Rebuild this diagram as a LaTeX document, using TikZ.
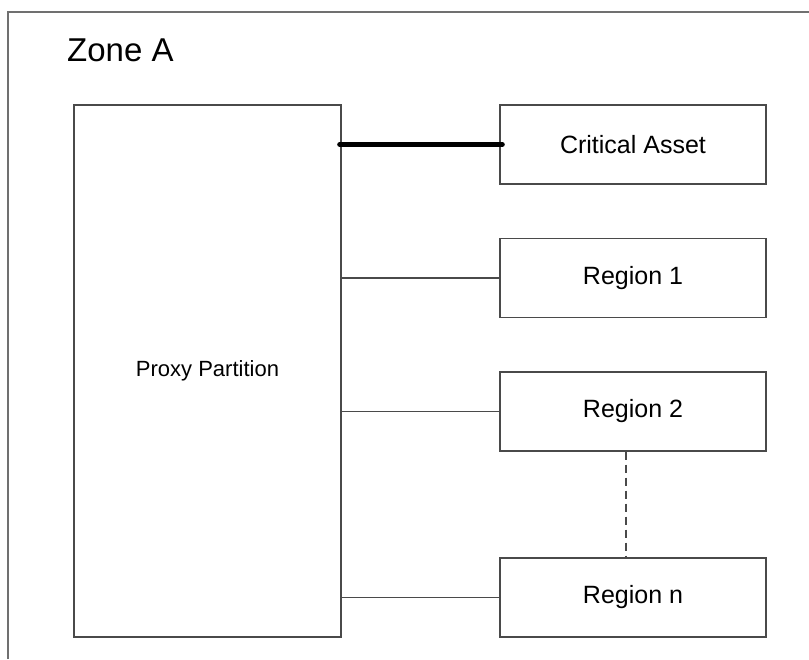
\documentclass[tikz,border=0pt]{standalone}
\usepackage{fontspec}
\setmainfont{Liberation Sans}
\definecolor{boxline}{HTML}{4A4A4A}
\definecolor{frameline}{HTML}{707070}
\begin{document}
\begin{tikzpicture}[x=1pt,y=-1pt,
  blk/.style={draw=boxline, line width=1.4pt, rectangle, inner sep=0pt, minimum width=266pt, minimum height=79pt, font=\fontsize{25}{30}\selectfont},
  link/.style={draw=boxline, line width=1.4pt},
  strong/.style={draw=black, line width=5pt, line cap=round}]
\useasboundingbox (0,0) rectangle (809,659);
% outer zone frame (cropped)
\coordinate (fbl) at (8,659);
\coordinate (ftl) at (8,12);
\coordinate (ftr) at (809,12);
\draw[frameline, line width=1.8pt] (fbl) -- (ftl) -- (ftr);
\node[anchor=base west, inner sep=0pt, font=\fontsize{33}{38}\selectfont] (zone) at (67,61) {Zone A};
% boxes
\node[blk, minimum width=267pt, minimum height=532pt, font=\fontsize{22}{26}\selectfont] (proxy) at (207.5,371) {Proxy Partition};
\node[blk] (crit) at (633,144.5) {Critical Asset};
\node[blk] (r1) at (633,278) {Region 1};
\node[blk] (r2) at (633,411.5) {Region 2};
\node[blk] (rn) at (633,597.5) {Region n};
% connectors
\draw[strong, shorten <=-2pt, shorten >=-3pt] (proxy.east |- crit.west) -- (crit.west);
\draw[link] (proxy.east |- r1.west) -- (r1.west);
\draw[link] (proxy.east |- r2.west) -- (r2.west);
\draw[link] (proxy.east |- rn.west) -- (rn.west);
\draw[draw=boxline, line width=1.4pt, dash pattern=on 8pt off 5pt] ([xshift=-7pt]r2.south) -- ([xshift=-7pt]rn.north);
\end{tikzpicture}
\end{document}
